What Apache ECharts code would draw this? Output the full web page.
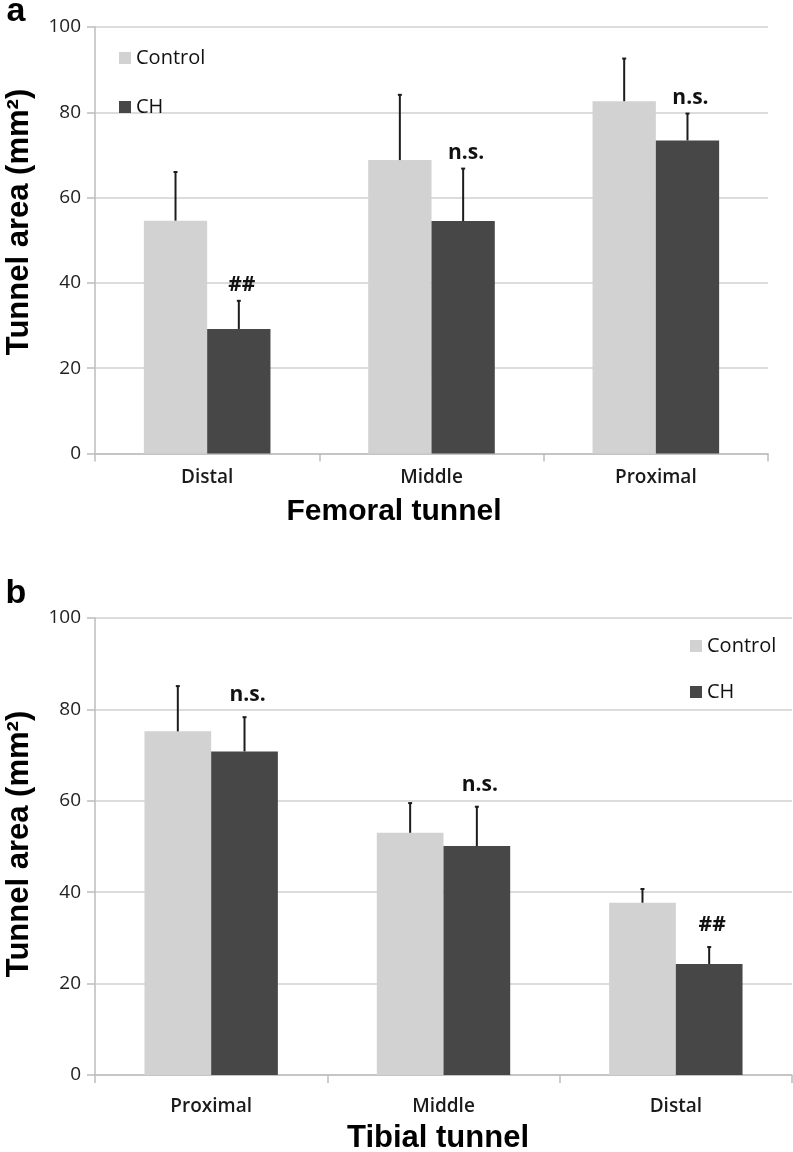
<!DOCTYPE html>
<html>
<head>
<meta charset="utf-8">
<script src="https://cdn.jsdelivr.net/npm/echarts@6/dist/echarts.min.js"></script>
<style>
html,body{margin:0;padding:0;background:#fff;}
#chart{width:793px;height:1152px;}
</style>
</head>
<body>
<div id="chart"></div>
<script>
// ---- data ----
const categoriesA = ['Distal', 'Middle', 'Proximal'];
const controlA    = [54.6, 68.8, 82.6];
const controlErrA = [11.4, 15.3, 10.0];
const chA         = [29.2, 54.5, 73.4];
const chErrA      = [6.6, 12.3, 6.3];
const signifA     = ['##', 'n.s.', 'n.s.'];

const categoriesB = ['Proximal', 'Middle', 'Distal'];
const controlB    = [75.2, 53.0, 37.7];
const controlErrB = [9.9, 6.5, 3.0];
const chB         = [70.8, 50.1, 24.3];
const chErrB      = [7.5, 8.6, 3.7];
const signifB     = ['n.s.', 'n.s.', '##'];

const yMin = 0, yMax = 100, yStep = 20;
const seriesNames = ['Control', 'CH'];
const panelLabels = ['a', 'b'];
const yTitle = 'Tunnel area (mm\u00B2)';
const xTitles = ['Femoral tunnel', 'Tibial tunnel'];

// ---- styles ----
const C_CONTROL = '#d2d2d2';
const C_CH = '#474747';
const C_ERR = '#1c1c1c';
const C_AXIS = '#bdbdbd';
const C_GRID = '#d0d0d0';
const TICK_FONT = 'Open Sans';
const TITLE_FONT = 'Liberation Sans';

const chart = echarts.init(document.getElementById('chart'), null, {renderer: 'canvas'});

function errSeries(idx, vals, errs, side, barW, labels, labelOffset) {
  return {
    type: 'custom',
    name: 'err' + idx + side,
    xAxisIndex: idx, yAxisIndex: idx,
    silent: true, z: 10,
    data: vals.map((v, i) => [i, v, v + errs[i]]),
    renderItem: function (params, api) {
      const base = api.coord([api.value(0), api.value(1)]);
      const top = api.coord([api.value(0), api.value(2)]);
      const cx = base[0] + side * barW / 2;
      const children = [
        {type: 'line', shape: {x1: cx, y1: base[1], x2: cx, y2: top[1]},
         style: {stroke: C_ERR, lineWidth: 2}},
        {type: 'line', shape: {x1: cx - 2, y1: top[1], x2: cx + 2, y2: top[1]},
         style: {stroke: C_ERR, lineWidth: 2}}
      ];
      if (labels) {
        children.push({
          type: 'text', x: cx + 3, y: top[1] - labelOffset,
          style: {text: labels[params.dataIndex], align: 'center', verticalAlign: 'middle',
                  fontFamily: TICK_FONT, fontWeight: 'bold', fontSize: 21, fill: '#111'}
        });
      }
      return {type: 'group', children: children};
    }
  };
}

function yAxis(idx) {
  return {
    type: 'value', gridIndex: idx, min: yMin, max: yMax, interval: yStep,
    axisLine: {show: true, lineStyle: {color: C_AXIS, width: 1.5}},
    axisTick: {show: true, length: 8, lineStyle: {color: C_AXIS, width: 1.5}},
    axisLabel: {margin: 14, color: '#222', fontSize: 19, fontFamily: TICK_FONT},
    splitLine: {show: true, lineStyle: {color: C_GRID, width: 1.5}}
  };
}

function xAxis(idx, cats, margin) {
  return {
    type: 'category', gridIndex: idx, data: cats,
    axisLine: {show: true, lineStyle: {color: C_AXIS, width: 1.5}},
    axisTick: {show: true, length: 8, interval: 0, lineStyle: {color: C_AXIS, width: 1.5}},
    axisLabel: {margin: margin, color: '#1a1a1a', fontSize: 19, fontWeight: 600, fontFamily: TICK_FONT},
    splitLine: {show: false}
  };
}

const BW_A = 63.3, BW_B = 66.7;

const option = {
  animation: false,
  backgroundColor: '#fff',
  grid: [
    {left: 95, top: 27, width: 673, height: 426.5},
    {left: 95, top: 618, width: 697, height: 457}
  ],
  xAxis: [xAxis(0, categoriesA, 15), xAxis(1, categoriesB, 22)],
  yAxis: [yAxis(0), yAxis(1)],
  legend: [
    {orient: 'vertical', left: 114, top: 43, itemWidth: 12, itemHeight: 12, itemGap: 29,
     icon: 'rect', data: seriesNames,
     textStyle: {fontFamily: TICK_FONT, fontSize: 20, fontWeight: 500, color: '#111', lineHeight: 20}},
    {orient: 'vertical', left: 685, top: 631, itemWidth: 12, itemHeight: 12, itemGap: 26,
     icon: 'rect', data: seriesNames,
     textStyle: {fontFamily: TICK_FONT, fontSize: 20, fontWeight: 500, color: '#111', lineHeight: 20}}
  ],
  series: [
    {type: 'bar', name: seriesNames[0], xAxisIndex: 0, yAxisIndex: 0, data: controlA,
     barWidth: BW_A, barGap: '0%', itemStyle: {color: C_CONTROL}},
    {type: 'bar', name: seriesNames[1], xAxisIndex: 0, yAxisIndex: 0, data: chA,
     barWidth: BW_A, barGap: '0%', itemStyle: {color: C_CH}},
    {type: 'bar', name: seriesNames[0], xAxisIndex: 1, yAxisIndex: 1, data: controlB,
     barWidth: BW_B, barGap: '0%', itemStyle: {color: C_CONTROL}},
    {type: 'bar', name: seriesNames[1], xAxisIndex: 1, yAxisIndex: 1, data: chB,
     barWidth: BW_B, barGap: '0%', itemStyle: {color: C_CH}},
    errSeries(0, controlA, controlErrA, -1, BW_A, null, 0),
    errSeries(0, chA, chErrA, 1, BW_A, signifA, 16),
    errSeries(1, controlB, controlErrB, -1, BW_B, null, 0),
    errSeries(1, chB, chErrB, 1, BW_B, signifB, 22)
  ],
  graphic: [
    {type: 'text', x: 16, y: 12, style: {text: panelLabels[0], align: 'center', verticalAlign: 'middle',
      fontFamily: TITLE_FONT, fontWeight: 'bold', fontSize: 34, fill: '#000'}},
    {type: 'text', x: 16, y: 594, style: {text: panelLabels[1], align: 'center', verticalAlign: 'middle',
      fontFamily: TITLE_FONT, fontWeight: 'bold', fontSize: 34, fill: '#000'}},
    {type: 'text', x: 19, y: 222, rotation: Math.PI / 2, style: {text: yTitle, align: 'center', verticalAlign: 'middle',
      fontFamily: TITLE_FONT, fontWeight: 'bold', fontSize: 31, fill: '#000'}},
    {type: 'text', x: 19, y: 844, rotation: Math.PI / 2, style: {text: yTitle, align: 'center', verticalAlign: 'middle',
      fontFamily: TITLE_FONT, fontWeight: 'bold', fontSize: 31, fill: '#000'}},
    {type: 'text', x: 394, y: 512, style: {text: xTitles[0], align: 'center', verticalAlign: 'middle',
      fontFamily: TITLE_FONT, fontWeight: 'bold', fontSize: 30, fill: '#000'}},
    {type: 'text', x: 438, y: 1138, style: {text: xTitles[1], align: 'center', verticalAlign: 'middle',
      fontFamily: TITLE_FONT, fontWeight: 'bold', fontSize: 31, fill: '#000'}}
  ]
};
chart.setOption(option);
</script>
</body>
</html>
